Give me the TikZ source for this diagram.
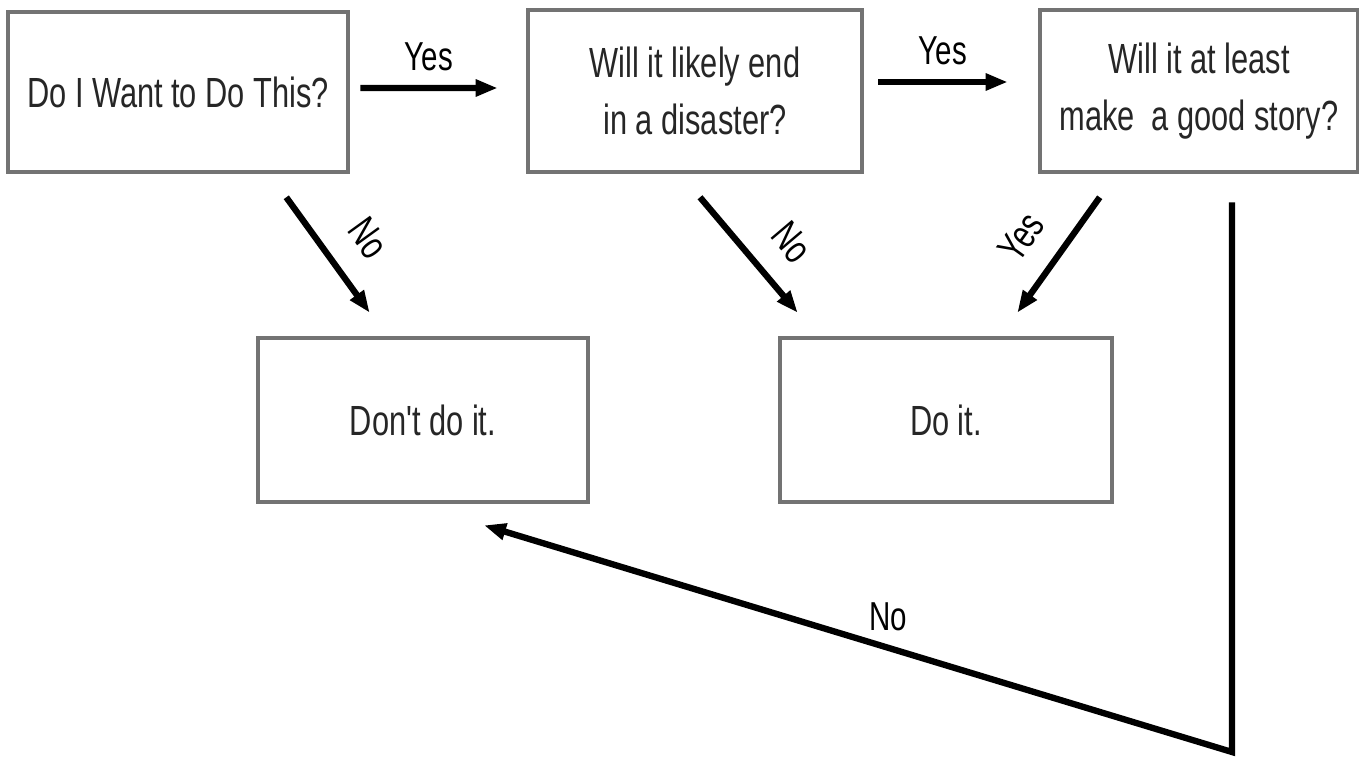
\documentclass[tikz,border=0pt]{standalone}
\usepackage{fontspec}
\usetikzlibrary{arrows.meta}
\newfontfamily\flowfont[FakeStretch=0.73]{Liberation Sans}

\begin{document}
\begin{tikzpicture}[
    qbox/.style={draw=black!55, line width=1.3pt, fill=white, inner sep=0pt,
      align=center, text=black!85, font=\flowfont\fontsize{12}{16}\selectfont},
    arr/.style={line width=1.8pt, -{Triangle[length=2.2mm,width=1.6mm]}},
    lbl/.style={font=\flowfont\fontsize{11.5}{14}\selectfont, inner sep=1pt}
  ]
    \useasboundingbox (0,0) rectangle (13.59,-7.65);
    % the five boxes
    \node[qbox, minimum width=3.40cm, minimum height=1.60cm] (want) at (1.78,-0.92) {Do I Want to Do This?};
    \node[qbox, minimum width=3.34cm, minimum height=1.62cm] (disaster) at (6.95,-0.91) {Will it likely end\\in a disaster?};
    \node[qbox, minimum width=3.18cm, minimum height=1.62cm] (story) at (11.99,-0.91) {Will it at least\\make~ a good story?};
    \node[qbox, minimum width=3.30cm, minimum height=1.64cm] (dont) at (4.23,-4.20) {Don't do it.};
    \node[qbox, minimum width=3.32cm, minimum height=1.64cm] (doit) at (9.46,-4.20) {Do it.};

    % answers
    \draw[arr] ([xshift=1mm,yshift=0.4mm]want.east) -- ([xshift=-2.8mm,yshift=0.3mm]disaster.west)
      node[lbl, midway, above=1mm] {Yes};
    \draw[arr] ([xshift=1.4mm,yshift=0.9mm]disaster.east) -- ([xshift=-3mm,yshift=0.9mm]story.west)
      node[lbl, midway, above=1mm] {Yes};
    \draw[arr] ([xshift=-6.4mm,yshift=-2.3mm]want.south east) -- ([xshift=11.4mm,yshift=2.3mm]dont.north west)
      node[lbl, pos=0.57, sloped, above=2.2mm] {No};
    \draw[arr] ([xshift=0.5mm,yshift=-2.3mm]disaster.south) -- ([xshift=2mm,yshift=2.3mm]doit.north west)
      node[lbl, pos=0.62, sloped, above=2mm] {No};
    \draw[arr] ([xshift=6.2mm,yshift=-2.3mm]story.south west) -- ([xshift=-9.7mm,yshift=2.3mm]doit.north east)
      node[lbl, pos=0.55, sloped, above=2mm] {Yes};

    % long way back
    \coordinate (turn) at (12.32,-7.52);
    \draw[arr] ([xshift=3.3mm,yshift=-2.8mm]story.south) -- (turn) -- ([xshift=6.1mm,yshift=-2.1mm]dont.south)
      node[lbl, pos=0.46, above=1mm] {No};
\end{tikzpicture}
\end{document}
